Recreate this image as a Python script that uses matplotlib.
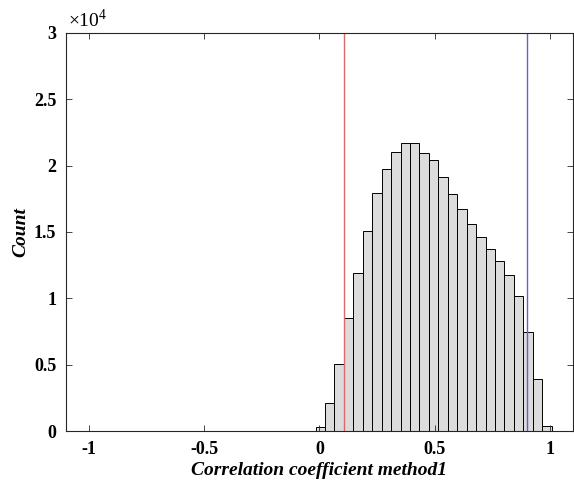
import numpy as np
import matplotlib
matplotlib.use("Agg")
import matplotlib.pyplot as plt

# histogram bin edges and counts
bin_edges = np.linspace(-0.017, 1.008, 26)
counts = [300, 2140, 5030, 8480, 11920, 15050, 17960, 19750, 21030, 21690,
          21740, 20980, 20450, 19150, 17840, 16730, 15620, 14640, 13690, 12810,
          11730, 10190, 7450, 3920, 410]

# threshold lines
red_x = 0.105
blue_x = 0.902

xticks = [-1, -0.5, 0, 0.5, 1]
yticks = [0, 5000, 10000, 15000, 20000, 25000, 30000]

plt.rcParams['font.family'] = ['Liberation Serif', 'DejaVu Serif']
plt.rcParams['mathtext.fontset'] = 'custom'
plt.rcParams['mathtext.rm'] = 'Liberation Serif'

fig = plt.figure(figsize=(5.74, 4.84), dpi=100)
ax = fig.add_axes([0.115, 0.1095, 0.883, 0.8225])

widths = np.diff(bin_edges)
ax.bar(bin_edges[:-1], counts, width=widths, align='edge',
       color='#dcdcdc', edgecolor='black', linewidth=0.7)

ax.axvline(red_x, color='#d86a6a', linewidth=1)
ax.axvline(blue_x, color='#6060d0', linewidth=1)

ax.set_xlim(-1.1, 1.1)
ax.set_ylim(0, 30000)
ax.set_xticks(xticks)
ax.set_xticklabels(['%g' % t for t in xticks])
ax.set_yticks(yticks)
ax.set_yticklabels(['%g' % (t / 1e4) for t in yticks])

ax.tick_params(direction='in', length=4, width=0.6, colors='#262626',
               top=True, right=True, labelsize=13, pad=7)
for lab in ax.get_xticklabels() + ax.get_yticklabels():
    lab.set_fontweight('bold')
    lab.set_color('black')
for sp in ax.spines.values():
    sp.set_color('#262626')
    sp.set_linewidth(0.8)

ax.text(0.003, 1.005, r'$\times10^{4}$', transform=ax.transAxes,
        fontsize=14, ha='left', va='bottom')

ax.set_xlabel('Correlation coefficient method1', fontsize=14,
              fontweight='bold', fontstyle='italic', labelpad=3)
ax.set_ylabel('Count', fontsize=14, fontweight='bold', fontstyle='italic',
              labelpad=3)

fig.savefig('out.png', dpi=100)
